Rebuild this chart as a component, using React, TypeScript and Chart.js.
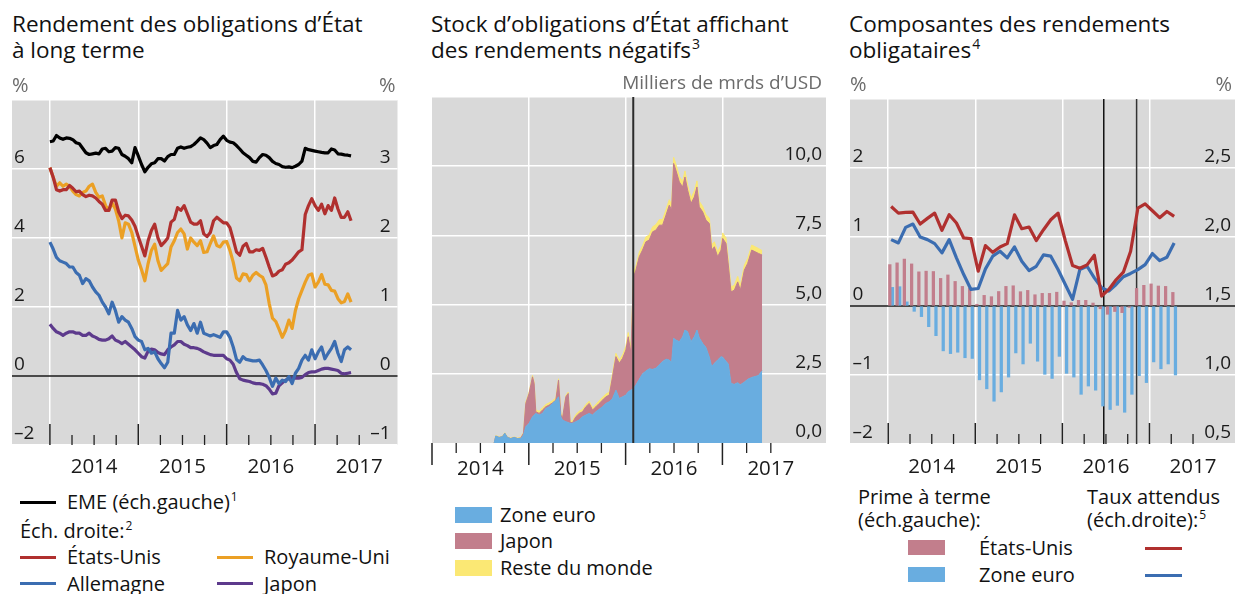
import React, { useEffect, useRef } from 'react';
import { Chart, registerables } from 'chart.js';

Chart.register(...registerables);

const FONT = '"Open Sans", "Noto Sans", sans-serif';
const BG = '#d9d9d9';
const RED = '#b0302f';
const ORANGE = '#eba025';
const BLUE = '#3b6db1';
const PURPLE = '#5d3a8c';
const PINK = '#c27e8c';
const LBLUE = '#69ade0';
const YELLOW = '#fbe874';

// ---------- Panel 1: long-term government bond yields (about every two weeks from Jan 2014)
const bondStartYear = 2014.0;
const bondStepYears = 1 / 27;
const emeYields = [
  6.79, 6.81, 6.97, 6.9, 6.86, 6.9, 6.89, 6.85, 6.76, 6.73,
  6.6, 6.47, 6.42, 6.44, 6.46, 6.44, 6.58, 6.6, 6.5, 6.52,
  6.62, 6.6, 6.42, 6.37, 6.3, 6.18, 6.62, 6.38, 6.13, 5.92,
  6.05, 6.15, 6.18, 6.3, 6.3, 6.23, 6.36, 6.42, 6.42, 6.6,
  6.64, 6.6, 6.63, 6.65, 6.71, 6.8, 6.9, 6.85,
  6.75, 6.62, 6.68, 6.71, 6.85, 6.95, 6.83, 6.78, 6.76, 6.68,
  6.58, 6.47, 6.4, 6.33, 6.22, 6.2, 6.33, 6.42, 6.4, 6.33,
  6.22, 6.16, 6.13, 6.07, 6.05, 6.06, 6.04, 6.08, 6.13, 6.23,
  6.6, 6.56, 6.54, 6.52, 6.5, 6.48, 6.47, 6.47, 6.58, 6.55,
  6.44, 6.43, 6.41, 6.4, 6.38,
];
const usYields = [
  3.02, 2.88, 2.7, 2.68, 2.7, 2.7, 2.76, 2.72, 2.67, 2.68,
  2.63, 2.6, 2.62, 2.61, 2.58, 2.53, 2.49, 2.4, 2.4, 2.55,
  2.55, 2.38, 2.28, 2.33, 2.32, 2.26, 2.17, 2.02, 1.88, 1.74,
  1.96, 2.11, 2.2, 2.0, 1.89, 1.94, 2.0, 2.23, 2.27, 2.44,
  2.4, 2.47, 2.35, 2.23, 2.2, 2.2, 2.25, 2.06,
  2.02, 2.08, 2.25, 2.3, 2.26, 2.22, 2.22, 2.15, 1.98, 1.8,
  1.75, 1.88, 1.92, 1.8, 1.8, 1.83, 1.82, 1.85, 1.72, 1.58,
  1.45, 1.47, 1.52, 1.54, 1.62, 1.64, 1.68, 1.74, 1.8, 1.83,
  2.34, 2.47, 2.57, 2.47, 2.4, 2.49, 2.35, 2.47, 2.4, 2.58,
  2.42, 2.3, 2.3, 2.38, 2.25,
];
const ukYields = [
  3.02, 2.88, 2.75, 2.8, 2.75, 2.78, 2.75, 2.68, 2.63, 2.61,
  2.66, 2.68, 2.75, 2.78, 2.66, 2.59, 2.61, 2.47, 2.4, 2.51,
  2.42, 2.25, 2.0, 2.22, 2.2, 2.08, 1.88, 1.68, 1.54, 1.38,
  1.63, 1.82, 1.91, 1.67, 1.53, 1.58, 1.63, 1.87, 1.96, 2.08,
  2.13, 2.06, 1.84, 2.0, 1.94, 1.89, 1.96, 1.79,
  1.8, 1.92, 2.03, 1.89, 1.87, 1.94, 1.95, 1.82, 1.65, 1.42,
  1.38, 1.48, 1.47, 1.38, 1.46, 1.5, 1.46, 1.43, 1.32, 1.05,
  0.84, 0.79, 0.68, 0.56, 0.66, 0.81, 0.69, 0.95, 1.12, 1.24,
  1.36, 1.46, 1.48, 1.29, 1.36, 1.47, 1.33, 1.32, 1.24, 1.23,
  1.12, 1.06, 1.08, 1.19, 1.07,
];
const deYields = [
  1.94, 1.84, 1.72, 1.67, 1.65, 1.63, 1.58, 1.58, 1.5, 1.46,
  1.34, 1.41, 1.38, 1.29, 1.22, 1.17, 1.07, 1.0, 0.9, 1.07,
  0.95, 0.78, 0.86, 0.81, 0.78, 0.69, 0.57, 0.52, 0.5, 0.38,
  0.4, 0.33, 0.35, 0.25, 0.18, 0.12, 0.2, 0.62, 0.62, 0.95,
  0.81, 0.86, 0.74, 0.66, 0.76, 0.62, 0.78, 0.62,
  0.6, 0.58, 0.6, 0.58, 0.56, 0.64, 0.64, 0.56, 0.42, 0.24,
  0.2, 0.28, 0.24, 0.23, 0.22, 0.22, 0.23, 0.16, 0.08, -0.02,
  -0.15, -0.03, -0.11, -0.06, -0.08, -0.01, -0.11, 0.04, 0.11, 0.23,
  0.3, 0.23, 0.38, 0.25, 0.35, 0.42, 0.25, 0.33, 0.4, 0.5,
  0.33, 0.21, 0.38, 0.42, 0.38,
];
const jpYields = [
  0.75, 0.69, 0.64, 0.62, 0.59, 0.62, 0.64, 0.64, 0.62, 0.62,
  0.59, 0.59, 0.62, 0.58, 0.56, 0.53, 0.52, 0.52, 0.54, 0.58,
  0.52, 0.5, 0.47, 0.5, 0.46, 0.42, 0.38, 0.33, 0.28, 0.26,
  0.36, 0.39, 0.38, 0.34, 0.32, 0.31, 0.38, 0.42, 0.45, 0.5,
  0.5, 0.46, 0.44, 0.41, 0.41, 0.4, 0.38, 0.35,
  0.33, 0.31, 0.3, 0.3, 0.3, 0.3, 0.25, 0.23, 0.17, 0.05,
  -0.04, -0.06, -0.07, -0.08, -0.1, -0.11, -0.11, -0.12, -0.14, -0.19,
  -0.26, -0.25, -0.14, -0.1, -0.06, -0.04, -0.03, -0.03, -0.03, -0.02,
  0.02, 0.05, 0.06, 0.06, 0.08, 0.1, 0.11, 0.11, 0.1, 0.09,
  0.08, 0.04, 0.03, 0.04, 0.05,
];
const p1LeftTicks = [-2, 0, 2, 4, 6];
const p1RightTicks = [-1, 0, 1, 2, 3];

// ---------- Panel 2: stock of government bonds with negative yields (thousand bn USD)
const stockDates = [
  2014.642, 2014.659, 2014.693, 2014.728, 2014.752, 2014.779, 2014.814, 2014.848, 2014.883, 2014.917,
  2014.945, 2014.969, 2015.003, 2015.038, 2015.055, 2015.072, 2015.107, 2015.141, 2015.176, 2015.210,
  2015.245, 2015.279, 2015.307, 2015.331, 2015.348, 2015.383, 2015.407, 2015.427, 2015.452, 2015.486,
  2015.521, 2015.555, 2015.589, 2015.624, 2015.658, 2015.693, 2015.727, 2015.762, 2015.796, 2015.831,
  2015.865, 2015.900, 2015.934, 2015.969, 2016.003, 2016.027, 2016.055, 2016.082, 2016.107, 2016.141,
  2016.175, 2016.210, 2016.244, 2016.279, 2016.313, 2016.348, 2016.382, 2016.417, 2016.451, 2016.475,
  2016.496, 2016.520, 2016.555, 2016.589, 2016.613, 2016.641, 2016.675, 2016.710, 2016.737, 2016.761,
  2016.796, 2016.830, 2016.865, 2016.889, 2016.917, 2016.951, 2016.986, 2017.003, 2017.037, 2017.061,
  2017.089, 2017.123, 2017.158, 2017.185, 2017.227, 2017.261, 2017.303, 2017.337, 2017.372, 2017.410,
];
const stockEuro = [
  0, 0.25, 0.2, 0.23, 0.35, 0.2, 0.16, 0.2, 0.16, 0.16,
  0.29, 0.59, 0.71, 0.95, 1.0, 1.07, 1.01, 1.07, 1.25, 1.31,
  1.43, 1.53, 1.67, 0.95, 0.83, 0.77, 0.74, 0.71, 0.71, 0.77,
  0.83, 0.95, 1.01, 1.07, 1.01, 1.13, 1.22, 1.31, 1.43, 1.49,
  1.61, 1.91, 1.61, 1.67, 1.73, 1.85, 1.91, 1.97, 2.1, 2.3,
  2.5, 2.6, 2.68, 2.66, 2.7, 2.82, 2.94, 3.03, 3.0, 2.9,
  3.78, 3.72, 3.66, 3.84, 4.08, 4.02, 3.66, 3.84, 4.08, 3.8,
  3.6, 3.45, 3.1, 2.76, 2.88, 3.0, 3.12, 3.1, 2.95, 2.85,
  2.15, 2.12, 2.18, 2.1, 2.2, 2.3, 2.37, 2.4, 2.44, 2.61,
];
const stockJapan = [
  0, 0, 0, 0, 0, 0, 0, 0, 0, 0.02,
  0.06, 0.84, 1.08, 1.44, 1.15, 0.06, 0.06, 0.12, 0.06, 0.06,
  0.02, 0.02, 0.6, 0.06, 0.07, 0.9, 1.05, 0.03, 0.03, 0.18,
  0.24, 0.18, 0.3, 0.36, 0.18, 0.18, 0.21, 0.24, 0.24, 0.24,
  0.78, 1.21, 1.27, 1.39, 1.63, 1.99, 1.33, 4.03, 4.15, 4.43,
  4.47, 4.67, 4.65, 4.97, 4.99, 5.05, 4.93, 5.2, 5.59, 5.52,
  6.32, 6.13, 5.77, 5.41, 5.53, 5.11, 4.99, 5.05, 5.17, 4.73,
  4.75, 4.6, 4.83, 4.21, 4.21, 3.73, 3.85, 4.29, 4.26, 3.58,
  3.31, 3.4, 3.64, 3.42, 4.05, 4.19, 4.6, 4.51, 4.41, 4.18,
];
const stockRest = [
  0, 0.02, 0.02, 0.02, 0.02, 0.02, 0.02, 0.02, 0.02, 0.02,
  0.03, 0.05, 0.05, 0.05, 0.05, 0.06, 0.08, 0.08, 0.08, 0.08,
  0.08, 0.08, 0.05, 0.05, 0.05, 0.05, 0.05, 0.06, 0.06, 0.08,
  0.08, 0.08, 0.08, 0.08, 0.08, 0.08, 0.1, 0.1, 0.1, 0.1,
  0.12, 0.12, 0.12, 0.12, 0.14, 0.15, 0.15, 0.15, 0.15, 0.16,
  0.16, 0.18, 0.18, 0.18, 0.2, 0.2, 0.2, 0.2, 0.2, 0.2,
  0.22, 0.22, 0.2, 0.2, 0.22, 0.2, 0.2, 0.22, 0.22, 0.2,
  0.2, 0.2, 0.2, 0.2, 0.18, 0.18, 0.18, 0.2, 0.2, 0.2,
  0.18, 0.18, 0.2, 0.18, 0.18, 0.18, 0.18, 0.18, 0.18, 0.16,
];
const p2Ticks = [0, 2.5, 5, 7.5, 10];
const bojNegativeRateDate = 2016.079;

// ---------- Panel 3: bond yield components, monthly from Jan 2014
const compStartYear = 2014;
const termPremiumUS = [
  0.6, 0.625, 0.68, 0.61, 0.495, 0.505, 0.5, 0.4, 0.45, 0.356,
  0.284, 0.255, 0.025, 0.154, 0.135, 0.21, 0.284, 0.293, 0.207, 0.226,
  0.163, 0.183, 0.183, 0.2, 0.072, 0.048, 0.082, 0.082, 0.043, -0.04,
  -0.12, -0.08, -0.096, -0.02, 0.255, 0.3, 0.32, 0.29, 0.284, 0.197,
];
const termPremiumEA = [
  0.27, 0.28, 0.06, -0.077, -0.154, -0.3, -0.43, -0.65, -0.69, -0.67,
  -0.75, -0.76, -1.07, -1.2, -1.38, -1.245, -1.03, -0.68, -0.84, -0.54,
  -0.8, -0.99, -1.05, -0.73, -0.976, -1.03, -1.28, -1.16, -1.22, -1.45,
  -1.5, -1.44, -1.54, -1.28, -1.01, -1.11, -0.81, -0.91, -0.84, -1.0,
];
const expectedUS = [
  2.221, 2.173, 2.178, 2.18, 2.094, 2.135, 2.173, 2.048, 2.161, 2.101,
  1.993, 1.988, 1.752, 1.938, 1.889, 1.928, 1.952, 2.161, 2.06, 2.072,
  1.974, 2.053, 2.125, 2.173, 1.974, 1.793, 1.774, 1.798, 1.868, 1.572,
  1.62, 1.69, 1.745, 1.897, 2.209, 2.24, 2.19, 2.14, 2.185, 2.149,
];
const expectedEA = [
  1.981, 1.957, 2.07, 2.094, 2.0, 1.981, 1.952, 1.885, 1.981, 1.849,
  1.728, 1.62, 1.627, 1.769, 1.861, 1.897, 1.849, 1.928, 1.825, 1.757,
  1.788, 1.87, 1.861, 1.764, 1.656, 1.548, 1.764, 1.788, 1.704, 1.632,
  1.608, 1.656, 1.712, 1.736, 1.764, 1.8, 1.88, 1.829, 1.853, 1.957,
];
const p3LeftTicks = [-2, -1, 0, 1, 2];
const p3RightTicks = [0.5, 1.0, 1.5, 2.0, 2.5];
const brexitVoteDate = 2016.475;
const usElectionDate = 2016.852;

const years = [2014, 2015, 2016, 2017];
const yearLabels = ['2014', '2015', '2016', '2017'];

const fmtInt = (v: number) => String(v).replace('-', '\u2013');
const fmtDec = (v: number) => v.toFixed(1).replace('.', ',').replace('-', '\u2013');

const quarterMinors = () => {
  const out: number[] = [];
  years.forEach((y) => [0.25, 0.5, 0.75].forEach((q) => { if (y + q <= 2017.5) out.push(y + q); }));
  return out;
};

function vline(ctx: any, x: number, y0: number, y1: number, color: string, w: number) {
  ctx.strokeStyle = color;
  ctx.lineWidth = w;
  ctx.beginPath();
  ctx.moveTo(x, y0);
  ctx.lineTo(x, y1);
  ctx.stroke();
}

function deco(o: any) {
  return {
    id: 'deco',
    beforeDraw(chart: any) {
      const { ctx, chartArea: a } = chart;
      ctx.save();
      ctx.fillStyle = BG;
      ctx.fillRect(a.left, a.top, a.right - a.left, a.bottom - a.top);
      ctx.restore();
    },
    beforeDatasetsDraw(chart: any) {
      const { ctx, chartArea: a, scales } = chart;
      ctx.save();
      if (o.zeroScale) {
        const y = scales[o.zeroScale].getPixelForValue(0);
        ctx.strokeStyle = '#1a1a1a';
        ctx.lineWidth = 1.3;
        ctx.beginPath();
        ctx.moveTo(a.left, y);
        ctx.lineTo(a.right, y);
        ctx.stroke();
      }
      (o.eventsBelow || []).forEach((e: any) =>
        vline(ctx, scales.x.getPixelForValue(e.x), a.top, a.bottom, e.color, e.width));
      ctx.restore();
    },
    afterDatasetsDraw(chart: any) {
      const { ctx, chartArea: a, scales } = chart;
      ctx.save();
      (o.eventsAbove || []).forEach((e: any) =>
        vline(ctx, scales.x.getPixelForValue(e.x), a.top, a.bottom, e.color, e.width));
      const dir = o.tickDir === 'in' ? -1 : 1;
      years.forEach((v) => vline(ctx, scales.x.getPixelForValue(v), a.bottom, a.bottom + dir * o.majorLen, '#222', 1.5));
      quarterMinors().forEach((v) => vline(ctx, scales.x.getPixelForValue(v), a.bottom, a.bottom + dir * o.minorLen, '#222', 1.3));
      ctx.restore();
    },
    afterDraw(chart: any) {
      const { ctx, chartArea: a, scales } = chart;
      ctx.save();
      ctx.textBaseline = 'alphabetic';
      ctx.fillStyle = '#1a1a1a';
      ctx.font = `19px ${FONT}`;
      if (o.left) {
        ctx.textAlign = 'left';
        o.left.values.forEach((v: number) =>
          ctx.fillText(o.left.fmt(v), a.left + o.left.inset, scales[o.left.scale].getPixelForValue(v) - 6));
      }
      if (o.right) {
        ctx.textAlign = 'right';
        o.right.values.forEach((v: number) =>
          ctx.fillText(o.right.fmt(v), a.right - o.right.inset, scales[o.right.scale].getPixelForValue(v) - 6));
      }
      ctx.font = `20.5px ${FONT}`;
      ctx.textAlign = 'center';
      years.forEach((y, i) =>
        ctx.fillText(yearLabels[i], scales.x.getPixelForValue(y + 0.5), a.bottom + o.yearOffset));
      ctx.fillStyle = '#6b6b6b';
      if (o.unitLeft) {
        ctx.font = `20px ${FONT}`;
        ctx.textAlign = 'left';
        ctx.fillText(o.unitLeft, a.left, a.top - 8);
      }
      if (o.unitRight) {
        ctx.font = `${o.unitRightSize || 20}px ${FONT}`;
        ctx.textAlign = 'right';
        ctx.fillText(o.unitRight, a.right - o.unitRightInset, a.top - 8);
      }
      ctx.restore();
    },
  };
}

const baseOptions = (pad: any) => ({
  responsive: false,
  animation: false,
  devicePixelRatio: 1,
  events: [],
  layout: { padding: pad },
  plugins: { legend: { display: false }, tooltip: { enabled: false } },
});

const xScale = (min: number, max: number, grid: number[]) => ({
  type: 'linear',
  min,
  max,
  offset: false,
  ticks: { display: false },
  grid: { color: '#ffffff', lineWidth: 1.5, drawTicks: false, offset: false },
  border: { display: false },
  afterBuildTicks: (s: any) => { s.ticks = grid.map((v) => ({ value: v })); },
});

const yScale = (min: number, max: number, step: number, position: string, gridOn: boolean, hideZero: boolean, stacked = false) => ({
  type: 'linear',
  position,
  min,
  max,
  stacked,
  ticks: { display: false, stepSize: step },
  grid: gridOn
    ? {
        color: (c: any) => (hideZero && c.tick && c.tick.value === 0 ? 'rgba(0,0,0,0)' : '#ffffff'),
        lineWidth: 1.5,
        drawTicks: false,
      }
    : { display: false },
  border: { display: false },
});

const lineDs = (label: string, values: number[], xs: (i: number) => number, color: string, axis: string, width = 3.2) => ({
  type: 'line',
  label,
  data: values.map((v, i) => ({ x: xs(i), y: v })),
  borderColor: color,
  borderWidth: width,
  pointRadius: 0,
  tension: 0,
  fill: false,
  borderJoinStyle: 'round',
  yAxisID: axis,
});

const bondX = (i: number) => bondStartYear + i * bondStepYears;
const compX = (i: number) => compStartYear + (i + 0.4) / 12;

const p1Config = () => ({
  type: 'line',
  data: {
    datasets: [
      lineDs('EME', emeYields, bondX, '#000000', 'yL'),
      lineDs('États-Unis', usYields, bondX, RED, 'yR'),
      lineDs('Royaume-Uni', ukYields, bondX, ORANGE, 'yR'),
      lineDs('Allemagne', deYields, bondX, BLUE, 'yR'),
      lineDs('Japon', jpYields, bondX, PURPLE, 'yR'),
    ],
  },
  options: {
    ...baseOptions({ left: 12, right: 14.5, top: 34, bottom: 35 }),
    scales: {
      x: xScale(2013.571, 2017.933, years),
      yL: yScale(-2, 8, 2, 'left', true, true),
      yR: yScale(-1, 4, 1, 'right', false, false),
    },
  },
  plugins: [
    deco({
      zeroScale: 'yL',
      tickDir: 'in', majorLen: 21, minorLen: 10, yearOffset: 28,
      left: { scale: 'yL', values: p1LeftTicks, fmt: fmtInt, inset: 2 },
      right: { scale: 'yR', values: p1RightTicks, fmt: fmtInt, inset: 7 },
      unitLeft: '%', unitRight: '%', unitRightInset: 2,
    }),
  ],
});

const areaDs = (label: string, values: number[], color: string, fill: any) => ({
  type: 'line',
  label,
  data: values.map((v, i) => ({ x: stockDates[i], y: v })),
  borderColor: color,
  backgroundColor: color,
  borderWidth: 1,
  pointRadius: 0,
  tension: 0,
  fill,
  yAxisID: 'y',
});

const p2Config = () => ({
  type: 'line',
  data: {
    datasets: [
      areaDs('Zone euro', stockEuro, LBLUE, 'origin'),
      areaDs('Japon', stockJapan, PINK, '-1'),
      areaDs('Reste du monde', stockRest, YELLOW, '-1'),
    ],
  },
  options: {
    ...baseOptions({ left: 12, right: 9, top: 31, bottom: 37 }),
    scales: {
      x: xScale(2014.0, 2018.07, [2015, 2016, 2017]),
      y: yScale(0, 12.5, 2.5, 'right', true, true, true),
    },
  },
  plugins: [
    deco({
      tickDir: 'out', majorLen: 22, minorLen: 10, yearOffset: 32,
      eventsAbove: [{ x: bojNegativeRateDate, color: '#2b2b2b', width: 2 }],
      right: { scale: 'y', values: p2Ticks, fmt: fmtDec, inset: 4 },
      unitRight: 'Milliers de mrds d\u2019USD', unitRightInset: 4, unitRightSize: 19,
    }),
  ],
});

const barDs = (label: string, values: number[], color: string) => ({
  type: 'bar',
  label,
  data: values.map((v, i) => ({ x: compX(i), y: v })),
  backgroundColor: color,
  borderWidth: 0,
  barThickness: 2.6,
  yAxisID: 'yL',
});

const p3Config = () => ({
  type: 'line',
  data: {
    datasets: [
      lineDs('États-Unis (taux attendus)', expectedUS, compX, RED, 'yR', 3.2),
      lineDs('Zone euro (taux attendus)', expectedEA, compX, BLUE, 'yR', 3.2),
      barDs('États-Unis (prime à terme)', termPremiumUS, PINK),
      barDs('Zone euro (prime à terme)', termPremiumEA, LBLUE),
    ],
  },
  options: {
    ...baseOptions({ left: 15, right: 0, top: 33, bottom: 36 }),
    scales: {
      x: xScale(2013.561, 2017.982, years),
      yL: yScale(-2, 3, 1, 'left', true, true),
      yR: yScale(0.5, 3.0, 0.5, 'right', false, false),
    },
  },
  plugins: [
    deco({
      zeroScale: 'yL',
      tickDir: 'in', majorLen: 21, minorLen: 10, yearOffset: 29,
      eventsBelow: [
        { x: brexitVoteDate, color: '#111111', width: 1.5 },
        { x: usElectionDate, color: '#333333', width: 1.5 },
      ],
      left: { scale: 'yL', values: p3LeftTicks, fmt: fmtInt, inset: 2.5 },
      right: { scale: 'yR', values: p3RightTicks, fmt: fmtDec, inset: 4 },
      unitLeft: '%', unitRight: '%', unitRightInset: 3,
    }),
  ],
});

function ChartBox({ make, left, top, width, height }: any) {
  const ref = useRef<HTMLCanvasElement>(null);
  useEffect(() => {
    const chart = new Chart(ref.current as any, make());
    return () => chart.destroy();
  }, []);
  return (
    <canvas
      ref={ref}
      width={width}
      height={height}
      style={{ position: 'absolute', left, top, width, height }}
    />
  );
}

const Txt = ({ x, y, size = 20, lh = 24, color = '#111', children }: any) => (
  <div
    style={{
      position: 'absolute', left: x, top: y - lh / 2, fontSize: size, lineHeight: `${lh}px`,
      fontFamily: FONT, color, whiteSpace: 'nowrap',
    }}
  >
    {children}
  </div>
);

const Sup = ({ children, size = 12, top = -8 }: any) => (
  <span style={{ fontSize: size, position: 'relative', top, marginLeft: 1 }}>{children}</span>
);

const Swatch = ({ x, y, w, h, color }: any) => (
  <div style={{ position: 'absolute', left: x, top: y, width: w, height: h, background: color }} />
);

export default function App() {
  return (
    <div style={{ position: 'absolute', left: 0, top: 0, width: 1243, height: 594, background: '#fff', overflow: 'hidden' }}>
      {/* titles */}
      <Txt x={12} y={24} size={22.5} lh={26}>Rendement des obligations d’État</Txt>
      <Txt x={12} y={50} size={22.5} lh={26}>à long terme</Txt>
      <Txt x={431} y={24} size={22.5} lh={26}>Stock d’obligations d’État affichant</Txt>
      <Txt x={431} y={50} size={22.5} lh={26}>des rendements négatifs<Sup size={14} top={-9}>3</Sup></Txt>
      <Txt x={849} y={24} size={22.5} lh={26}>Composantes des rendements</Txt>
      <Txt x={849} y={50} size={22.5} lh={26}>obligataires<Sup size={14} top={-9}>4</Sup></Txt>

      <ChartBox make={p1Config} left={0} top={66} width={420} height={414} />
      <ChartBox make={p2Config} left={420} top={66} width={415} height={414} />
      <ChartBox make={p3Config} left={835} top={66} width={408} height={414} />

      {/* legend panel 1 */}
      <Swatch x={20} y={500.5} w={36} h={3} color="#000" />
      <Txt x={67} y={502}>EME (éch.gauche)<Sup>1</Sup></Txt>
      <Txt x={20} y={531}>Éch. droite:<Sup>2</Sup></Txt>
      <Swatch x={20} y={555.5} w={36} h={3} color={RED} />
      <Txt x={67} y={557}>États-Unis</Txt>
      <Swatch x={217} y={555.5} w={36} h={3} color={ORANGE} />
      <Txt x={264} y={557}>Royaume-Uni</Txt>
      <Swatch x={20} y={582} w={36} h={3} color={BLUE} />
      <Txt x={67} y={583.5}>Allemagne</Txt>
      <Swatch x={217} y={582} w={36} h={3} color={PURPLE} />
      <Txt x={264} y={583.5}>Japon</Txt>

      {/* legend panel 2 */}
      <Swatch x={455} y={507} w={37} h={16} color={LBLUE} />
      <Txt x={500} y={515}>Zone euro</Txt>
      <Swatch x={455} y={533} w={37} h={16} color={PINK} />
      <Txt x={500} y={541}>Japon</Txt>
      <Swatch x={455} y={560} w={37} h={16} color={YELLOW} />
      <Txt x={500} y={568}>Reste du monde</Txt>

      {/* legend panel 3 */}
      <Txt x={858} y={497}>Prime à terme</Txt>
      <Txt x={858} y={520}>(éch.gauche):</Txt>
      <Txt x={1087} y={497}>Taux attendus</Txt>
      <Txt x={1087} y={520}>(éch.droite):<Sup>5</Sup></Txt>
      <Swatch x={908} y={540} w={37} h={15} color={PINK} />
      <Txt x={979} y={548}>États-Unis</Txt>
      <Swatch x={908} y={567} w={37} h={15} color={LBLUE} />
      <Txt x={979} y={575}>Zone euro</Txt>
      <Swatch x={1145} y={546.5} w={37} h={3} color={RED} />
      <Swatch x={1145} y={573.5} w={37} h={3} color={BLUE} />
    </div>
  );
}
